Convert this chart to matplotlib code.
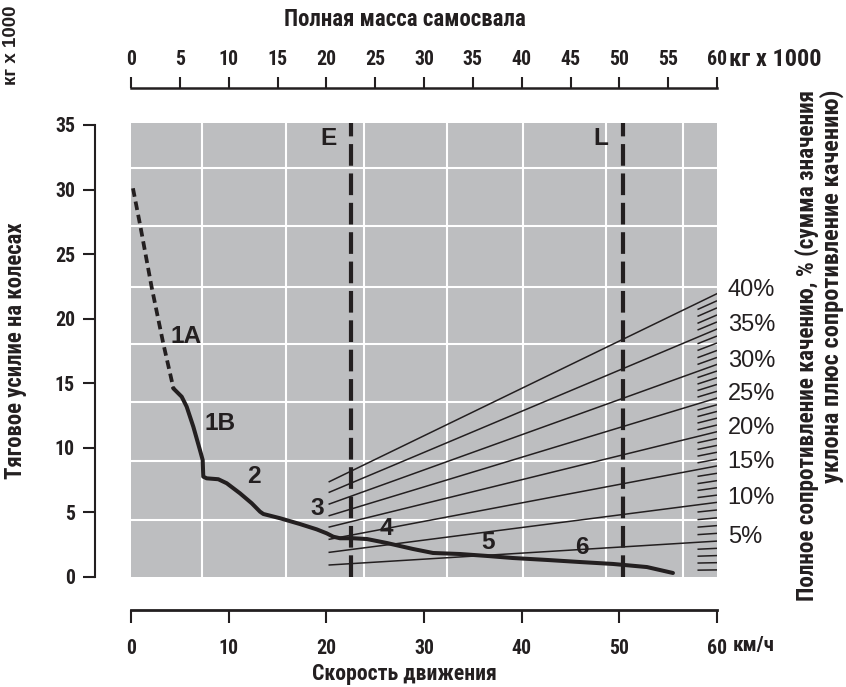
import matplotlib
matplotlib.use("Agg")
import matplotlib.pyplot as plt
from matplotlib import font_manager as fm
from matplotlib.textpath import TextPath

# ---------------- data ----------------
# rimpull curve, segment 1A (dotted)
speed_1a = [0.2, 0.95, 2.1, 3.3, 4.35]
pull_1a = [30.1, 27.2, 22.5, 18.1, 14.6]
# rimpull curve, gears 1B..6 (solid)
speed_main = [4.33, 5.19, 5.70, 6.38, 7.06, 7.34, 7.40, 7.75, 8.94, 9.80, 11.16,
              12.36, 13.21, 13.55, 15.26, 17.30, 19.01, 20.04, 20.71, 21.40,
              22.76, 24.16, 26.21, 28.87, 30.92, 33.68, 36.45, 39.11, 42.59,
              45.97, 49.35, 52.83, 55.49]
pull_main = [14.61, 13.96, 13.19, 11.64, 9.83, 9.06, 7.77, 7.64, 7.57, 7.26, 6.48,
             5.71, 5.06, 4.88, 4.55, 4.10, 3.69, 3.38, 3.12, 3.00,
             3.00, 2.94, 2.63, 2.17, 1.86, 1.78, 1.63, 1.47, 1.32,
             1.16, 1.01, 0.77, 0.31]
gear_labels = ["1A", "1B", "2", "3", "4", "5", "6"]
gear_label_speed = [5.63, 9.11, 12.59, 19.04, 26.1, 36.55, 46.18]
gear_label_pull = [18.6, 11.92, 7.82, 5.34, 3.79, 2.71, 2.32]

# total resistance lines (x in gross mass, t)
grade_labels = ["40%", "35%", "30%", "25%", "20%", "15%", "10%", "5%"]
grade_mass = [20.3, 60.0]
grade_y_start = [7.38, 6.56, 5.65, 4.75, 3.87, 2.92, 1.91, 0.93]
grade_y_end = [21.94, 19.20, 16.46, 13.86, 11.25, 8.60, 5.78, 2.78]

# hatch scale at right edge (1 % steps), x in gross mass
hatch_mass = [58.0, 60.0]
hatch_y_left = [20.71, 20.18, 19.64, 19.12, 18.06, 17.54, 16.98, 16.46,
                15.44, 14.94, 14.44, 13.93, 12.92, 12.42, 11.92, 11.40,
                10.39, 9.88, 9.36, 8.84, 7.79, 7.23, 6.70, 6.15,
                5.03, 4.44, 3.86, 3.28, 2.15, 1.61, 1.08, 0.53]
hatch_y_right = [21.39, 20.84, 20.29, 19.75, 18.66, 18.12, 17.54, 17.00,
                 15.95, 15.43, 14.91, 14.38, 13.34, 12.82, 12.30, 11.77,
                 10.72, 10.19, 9.66, 9.12, 8.03, 7.46, 6.91, 6.34,
                 5.19, 4.58, 3.98, 3.38, 2.22, 1.66, 1.11, 0.55]

# empty / loaded mass
mass_marks = ["E", "L"]
mass_values = [22.55, 50.4]

# background grid (white)
grid_x = [7.3, 15.9, 23.9, 32.4, 40.1, 48.6, 56.5]
grid_y = [4.41, 8.98, 13.55, 18.04, 22.46, 27.18, 31.67]

speed_ticks = [0, 10, 20, 30, 40, 50, 60]
mass_ticks = [0, 5, 10, 15, 20, 25, 30, 35, 40, 45, 50, 55, 60]
pull_ticks = [0, 5, 10, 15, 20, 25, 30, 35]

# ---------------- fonts ----------------
INK = "#231f20"
GRAY = "#bdbec0"

narrow_name, narrow_stretch = None, "normal"
prefs = ["Liberation Sans Narrow", "Roboto Condensed", "Open Sans Condensed",
         "Noto Sans Condensed", "DejaVu Sans"]
cond_faces = [f for f in fm.fontManager.ttflist
              if ("Narrow" in f.name or "Condensed" in f.name
                  or f.stretch in ("condensed", "semi-condensed", "extra-condensed"))]
for p in prefs:
    hit = [f for f in cond_faces if f.name == p]
    if hit:
        narrow_name, narrow_stretch = p, hit[0].stretch
        break
if narrow_name is None and cond_faces:
    narrow_name, narrow_stretch = cond_faces[0].name, cond_faces[0].stretch
if narrow_name is None:
    narrow_name, narrow_stretch = "Liberation Sans", "normal"
if narrow_stretch in ("normal", 500, 400):
    narrow_stretch = "normal"

NARROW = dict(family=[narrow_name, "DejaVu Sans"], stretch=narrow_stretch,
              weight="bold")
WIDE_B = dict(family=["Liberation Sans", "DejaVu Sans"], stretch="normal",
              weight="bold")
WIDE_R = dict(family=["Liberation Sans", "DejaVu Sans"], stretch="normal",
              weight="normal")

plt.rcParams["font.family"] = [narrow_name, "DejaVu Sans"]
plt.rcParams["font.stretch"] = narrow_stretch
plt.rcParams["font.weight"] = "bold"
plt.rcParams["text.color"] = INK

W, H = 846, 687
fig = plt.figure(figsize=(W / 100, H / 100), dpi=100)
fig.patch.set_facecolor("white")
renderer = fig.canvas.get_renderer()


def fit_size(s, target_px, props, cap=None):
    t = fig.text(0, 0, s, fontsize=20, **props)
    w = t.get_window_extent(renderer=renderer).width
    t.remove()
    size = 20 * target_px / w
    if cap is not None:
        size = min(size, cap)
    return size


def fit_height(s, target_px, props):
    fp = fm.FontProperties(size=20, **props)
    h = TextPath((0, 0), s, size=20, prop=fp).get_extents().height
    h_px = h / 0.72
    return 20 * target_px / h_px


tick_size = min(fit_height("0", 14.5, NARROW), 16)
gear_size = fit_size("1B", 31, WIDE_B, cap=19)
pct_size = fit_size("40%", 49, WIDE_R, cap=17)

L, R, T, B = 131, 717, 123, 577
ax = fig.add_axes([L / W, 1 - B / H, (R - L) / W, (B - T) / H])
ax.set_xlim(0, 60)
ymax = 35 * (B - T) / (B - 125)
ax.set_ylim(0, ymax)
ax.set_facecolor(GRAY)

ax2 = ax.twiny()
ax2.set_xlim(0, 60)
ax2.patch.set_visible(False)

for s in ["top", "right"]:
    ax.spines[s].set_visible(False)
for s in ["bottom", "left", "right"]:
    ax2.spines[s].set_visible(False)

px = 0.72  # points per pixel
ax.spines["left"].set_position(("outward", 36 * px))
ax.spines["left"].set_bounds(0, 35)
ax.spines["left"].set_linewidth(1.5)
ax.spines["left"].set_color(INK)
ax.spines["bottom"].set_position(("outward", 33 * px))
ax.spines["bottom"].set_bounds(0, 60)
ax.spines["bottom"].set_linewidth(2.0)
ax.spines["bottom"].set_color(INK)
ax2.spines["top"].set_position(("outward", 35 * px))
ax2.spines["top"].set_bounds(0, 60)
ax2.spines["top"].set_linewidth(1.8)
ax2.spines["top"].set_color(INK)

ax.set_yticks(pull_ticks)
ax.set_xticks(speed_ticks)
ax2.set_xticks(mass_ticks)
ax.tick_params(axis="y", direction="out", length=12 * px, width=1.5, color=INK,
               labelsize=tick_size, pad=8 * px, labelcolor=INK)
ax.tick_params(axis="x", direction="out", length=13 * px, width=1.5, color=INK,
               labelsize=tick_size, pad=16 * px, labelcolor=INK)
ax2.tick_params(axis="x", direction="out", length=11 * px, width=1.5, color=INK,
                labelsize=tick_size, pad=8 * px, labelcolor=INK)
for a in (ax, ax2):
    for axis in (a.xaxis, a.yaxis):
        for tk in axis.get_major_ticks():
            for lbl in (tk.label1, tk.label2):
                lbl.set_fontproperties(fm.FontProperties(size=tick_size, **NARROW))

# white grid
for gx in grid_x:
    ax.axvline(gx, color="white", lw=1.5, zorder=1)
for gy in grid_y:
    ax.axhline(gy, color="white", lw=1.5, zorder=1)

# resistance lines (gross mass scale -> top axis)
for y0, y1 in zip(grade_y_start, grade_y_end):
    ax.plot(grade_mass, [y0, y1], color=INK, lw=1.1, zorder=2,
            transform=ax2.transData)
for y0, y1 in zip(hatch_y_left, hatch_y_right):
    ax.plot(hatch_mass, [y0, y1], color=INK, lw=1.1, zorder=2,
            transform=ax2.transData, solid_capstyle="butt")
for lab, y1 in zip(grade_labels, grade_y_end):
    ax.text(61.1, y1 + 0.3, lab, transform=ax2.transData, fontsize=pct_size,
            ha="left", va="center", clip_on=False, **WIDE_R)

# rimpull curve
ax.plot(speed_1a, pull_1a, color=INK, lw=2.7, zorder=3,
        dashes=(2.3, 1.3), dash_capstyle="butt")
ax.plot(speed_main, pull_main, color=INK, lw=2.9, zorder=3,
        solid_joinstyle="round", solid_capstyle="round")
for lab, sx, sy in zip(gear_labels, gear_label_speed, gear_label_pull):
    ax.text(sx, sy, lab, fontsize=gear_size, ha="center", va="center",
            zorder=5, **WIDE_B)

# E / L mass lines
for lab, mv in zip(mass_marks, mass_values):
    ax.plot([mv, mv], [0, ymax], color=INK, lw=3.0, zorder=4,
            dashes=(5.2, 1.85), dash_capstyle="butt",
            transform=ax2.transData)
    ax.text(mv - 2.3, 33.96, lab, fontsize=gear_size, ha="center",
            va="center", zorder=5, transform=ax2.transData, **WIDE_B)


# texts
def ft(xp, yp, s, target, props, rot=0, **kw):
    size = fit_size(s, target, props)
    fig.text(xp / W, 1 - yp / H, s, fontsize=size, rotation=rot, **props, **kw)


ft(405, 19, "Полная масса самосвала", 242, NARROW, ha="center", va="center")
ft(729, 59, "кг х 1000", 92, NARROW, ha="left", va="center")
ft(733, 646, "км/ч", 42, NARROW, ha="left", va="center")
ft(404, 674, "Скорость движения", 184, NARROW, ha="center", va="center")
ft(16, 351, "Тяговое усилие на колесах", 256, NARROW, rot=90,
   ha="center", va="center")
ft(12, 45, "кг х 1000", 80, WIDE_B, rot=90, ha="center", va="center")
ft(807, 90, "Полное сопротивление качению, % (сумма значения", 512, NARROW,
   rot=90, ha="center", va="top")
ft(832, 90, "уклона плюс сопротивление качению)", 392, NARROW,
   rot=90, ha="center", va="top")

fig.savefig("out.png", dpi=100)
